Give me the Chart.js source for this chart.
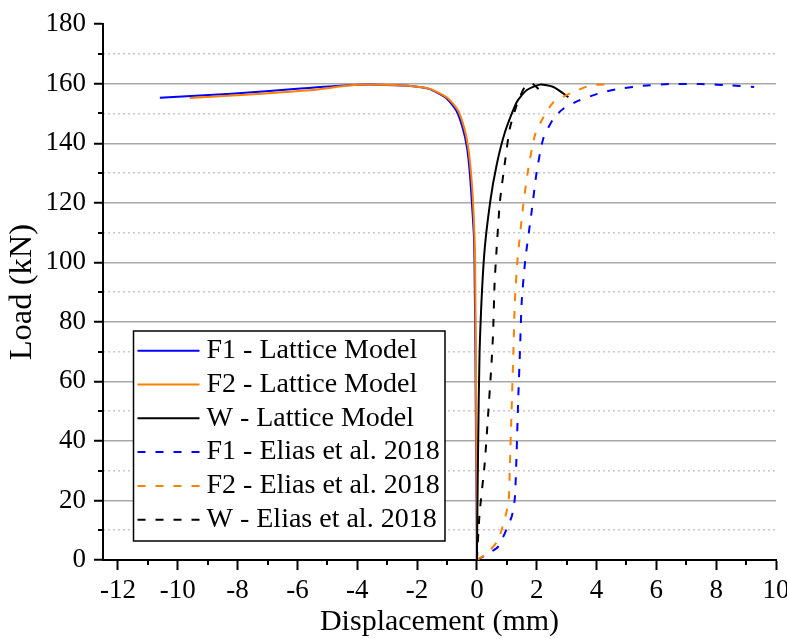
<!DOCTYPE html>
<html>
<head>
<meta charset="utf-8">
<title>Load - displacement</title>
<script src="https://cdn.jsdelivr.net/npm/chart.js@4.4.1/dist/chart.umd.min.js"></script>
<style>
    html, body { margin: 0; padding: 0; background: #fff; }
    #wrap { width: 787px; height: 639px; }
</style>
</head>
<body>
<div id="wrap"><canvas id="loadChart" width="787" height="639"></canvas></div>
<script>
// displacement in mm, load in kN

// lattice model, F1
var f1LatticeX = [0, -0.01, -0.03, -0.05, -0.08, -0.10, -0.17, -0.24, -0.33, -0.47, -0.69, -1.03, -1.58, -2.3, -3.4, -4.3, -5.9, -8.2, -10.6];
var f1LatticeY = [0, 20, 40, 70, 100, 109, 120.5, 130.5, 138.5, 145, 151, 155.2, 158.2, 159.3, 159.7, 159.5, 158.4, 156.6, 155.3];

// lattice model, F2
var f2LatticeX = [0, -0.005, -0.02, -0.035, -0.06, -0.08, -0.13, -0.2, -0.29, -0.42, -0.63, -0.98, -1.55, -2.3, -3.4, -4.3, -5.4, -7.6, -9.6];
var f2LatticeY = [0, 20, 40, 70, 100, 109, 120.5, 130.5, 138.5, 145, 151, 155.2, 158.2, 159.3, 159.7, 159.4, 158.0, 156.4, 155.2];

// lattice model, W
var wLatticeX = [0, 0.02, 0.04, 0.09, 0.24, 0.44, 0.66, 0.94, 1.33, 1.66, 2.11, 2.56, 3.06];
var wLatticeY = [0, 20, 37, 70, 102, 120, 132.7, 143.8, 153.8, 157.8, 159.7, 158.9, 155.5];

// Elias et al. 2018, F1
var f1EliasX = [0, 0.35, 0.71, 1.16, 1.27, 1.33, 1.38, 1.44, 1.5, 1.62, 1.83, 2.0, 2.22, 2.56, 2.89, 3.4, 4.03, 4.74, 5.55, 6.46, 7.49, 8.53, 9.27];
var f1EliasY = [0, 2, 4.5, 14.5, 21, 36.8, 53.5, 70.2, 87, 101, 117, 130.4, 141.6, 148.3, 151.6, 154.3, 156.6, 158.3, 159.3, 159.9, 159.9, 159.4, 158.9];

// Elias et al. 2018, F2
var f2EliasX = [0, 0.33, 0.71, 1.05, 1.1, 1.16, 1.22, 1.27, 1.36, 1.55, 1.72, 1.94, 2.21, 2.56, 3.13, 3.82, 4.45];
var f2EliasY = [0, 2.2, 6.7, 19, 31, 50, 70, 87, 101, 119.3, 131.5, 142.7, 148.5, 153.8, 156.8, 159.5, 159.8];

// Elias et al. 2018, W
var wEliasX = [0, 0.09, 0.26, 0.37, 0.48, 0.54, 0.59, 0.65, 0.77, 0.94, 1.1, 1.33, 1.6, 1.85, 2.05, 2.2];
var wEliasY = [0, 15.6, 32.3, 48, 64.6, 75.8, 92.5, 103, 120.4, 133.8, 144.9, 152.8, 158.9, 160, 158.3, 156.5];

var xTicks = [-12, -10, -8, -6, -4, -2, 0, 2, 4, 6, 8, 10];
var xMinorTicks = [-11, -9, -7, -5, -3, -1, 1, 3, 5, 7, 9];
var yTicks = [0, 20, 40, 60, 80, 100, 120, 140, 160, 180];
var yMinorTicks = [10, 30, 50, 70, 90, 110, 130, 150, 170];

var serif = '"Liberation Serif", "Times New Roman", serif';

function toPoints(xs, ys) {
    return xs.map(function (x, i) { return { x: x, y: ys[i] }; });
}

function asTicks(values) {
    return values.map(function (v) { return { value: v }; });
}

// short unlabelled ticks between the numbered ones
var minorTickMarks = {
    id: 'minorTickMarks',
    afterDraw: function (chart) {
        var ctx = chart.ctx;
        var xs = chart.scales.x;
        var ys = chart.scales.y;
        ctx.save();
        ctx.strokeStyle = '#000';
        ctx.lineWidth = 2;
        ctx.beginPath();
        xMinorTicks.forEach(function (v) {
            var px = Math.round(xs.getPixelForValue(v));
            ctx.moveTo(px, xs.top);
            ctx.lineTo(px, xs.top + 5);
        });
        yMinorTicks.forEach(function (v) {
            var py = Math.round(ys.getPixelForValue(v));
            ctx.moveTo(ys.right, py);
            ctx.lineTo(ys.right - 5, py);
        });
        ctx.stroke();
        ctx.restore();
    }
};

// framed legend sitting inside the plot
var boxLegend = {
    id: 'boxLegend',
    afterDraw: function (chart) {
        var ctx = chart.ctx;
        var left = 133.5, top = 331, w = 311.5, h = 210, rowH = 33.8;
        ctx.save();
        ctx.fillStyle = '#fff';
        ctx.fillRect(left, top, w, h);
        ctx.strokeStyle = '#000';
        ctx.lineWidth = 1.5;
        ctx.strokeRect(left, top, w, h);
        ctx.font = '28px ' + serif;
        ctx.textBaseline = 'middle';
        chart.data.datasets.forEach(function (ds, i) {
            var y = top + 19.7 + i * rowH;
            ctx.strokeStyle = ds.borderColor;
            ctx.lineWidth = ds.borderWidth;
            ctx.setLineDash(ds.borderDash || []);
            ctx.beginPath();
            ctx.moveTo(left + 4, y);
            ctx.lineTo(left + 66, y);
            ctx.stroke();
            ctx.setLineDash([]);
            ctx.fillStyle = '#000';
            ctx.fillText(ds.label, left + 73, y);
        });
        ctx.restore();
    }
};

document.addEventListener('DOMContentLoaded', function () {
    Chart.defaults.font.family = serif;
    Chart.defaults.color = '#000';

    var dash = [8, 10];
    var ctx = document.getElementById('loadChart').getContext('2d');
    var loadChart = new Chart(ctx, {
        type: 'scatter',
        data: {
            datasets: [
                { label: 'F1 - Lattice Model', data: toPoints(f1LatticeX, f1LatticeY), borderColor: '#0000ff', borderWidth: 2, order: 6 },
                { label: 'F2 - Lattice Model', data: toPoints(f2LatticeX, f2LatticeY), borderColor: '#ff7f00', borderWidth: 2, order: 5 },
                { label: 'W - Lattice Model', data: toPoints(wLatticeX, wLatticeY), borderColor: '#000000', borderWidth: 2, order: 4 },
                { label: 'F1 - Elias et al. 2018', data: toPoints(f1EliasX, f1EliasY), borderColor: '#0000ff', borderWidth: 2, borderDash: dash, order: 3 },
                { label: 'F2 - Elias et al. 2018', data: toPoints(f2EliasX, f2EliasY), borderColor: '#ff7f00', borderWidth: 2, borderDash: dash, order: 2 },
                { label: 'W - Elias et al. 2018', data: toPoints(wEliasX, wEliasY), borderColor: '#000000', borderWidth: 2, borderDash: dash, order: 1 }
            ]
        },
        options: {
            responsive: false,
            animation: false,
            showLine: true,
            elements: {
                point: { radius: 0, hoverRadius: 0 },
                line: { tension: 0.2, fill: false }
            },
            layout: {
                padding: { top: 22.7, right: 11, bottom: 0, left: 0 }
            },
            scales: {
                x: {
                    type: 'linear',
                    min: -12.5,
                    max: 10,
                    afterBuildTicks: function (axis) { axis.ticks = asTicks(xTicks); },
                    afterFit: function (axis) {
                        axis.height = 79;
                        axis.paddingLeft = 0;
                        axis.paddingRight = 0;
                    },
                    grid: { drawOnChartArea: false, tickLength: 10, tickWidth: 2, tickColor: '#000' },
                    border: { color: '#000', width: 2 },
                    ticks: {
                        color: '#000',
                        font: { size: 27 },
                        padding: 5,
                        autoSkip: false,
                        maxRotation: 0,
                        callback: function (v) { return String(v); }
                    },
                    title: {
                        display: true,
                        text: 'Displacement (mm)',
                        color: '#000',
                        font: { size: 30, lineHeight: 1 },
                        padding: { top: 0, bottom: 2 }
                    }
                },
                y: {
                    type: 'linear',
                    min: 0,
                    max: 180,
                    afterBuildTicks: function (axis) { axis.ticks = asTicks(yTicks); },
                    afterFit: function (axis) { axis.width = 103; },
                    grid: {
                        color: function (c) {
                            if (c.tick && (c.tick.value === 0 || c.tick.value === 180)) {
                                return 'rgba(0,0,0,0)';
                            }
                            return '#a8a8a8';
                        },
                        lineWidth: 1.5,
                        tickLength: 9,
                        tickWidth: 2,
                        tickColor: '#000'
                    },
                    border: { color: '#000', width: 2 },
                    ticks: {
                        color: '#000',
                        font: { size: 27 },
                        padding: 8,
                        callback: function (v) { return String(v); }
                    },
                    title: {
                        display: true,
                        text: 'Load (kN)',
                        color: '#000',
                        font: { size: 32.5, lineHeight: 1 },
                        padding: { top: 6, bottom: 0 }
                    }
                },
                yMinor: {
                    type: 'linear',
                    position: 'right',
                    min: 0,
                    max: 180,
                    afterBuildTicks: function (axis) { axis.ticks = asTicks(yMinorTicks); },
                    afterFit: function (axis) { axis.width = 0; },
                    ticks: { display: false },
                    grid: { color: '#c8c8c8', lineWidth: 1.5, drawTicks: false },
                    border: { display: false, dash: [2, 3] }
                }
            },
            plugins: {
                legend: { display: false },
                tooltip: { enabled: false }
            }
        },
        plugins: [minorTickMarks, boxLegend]
    });
});
</script>
</body>
</html>
